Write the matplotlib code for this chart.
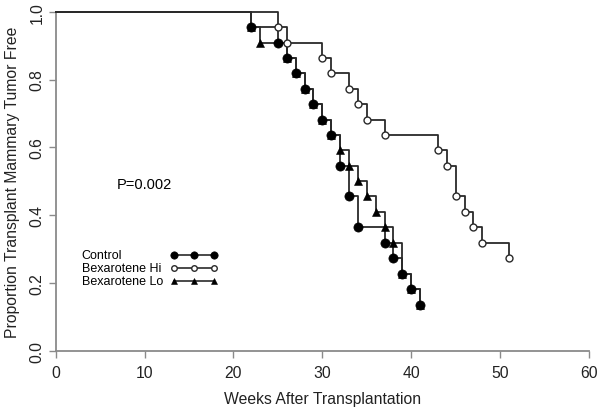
import matplotlib
matplotlib.use("Agg")
import matplotlib.pyplot as plt

plt.rcParams['font.family'] = ['Liberation Sans', 'DejaVu Sans']

# Data (weeks of event, proportion tumor free after event)
ctrl_weeks = [22, 25, 26, 27, 28, 29, 30, 31, 32, 33, 34, 37, 38, 39, 40, 41]
ctrl_surv = [0.955, 0.909, 0.864, 0.818, 0.773, 0.727, 0.682, 0.636, 0.545,
             0.455, 0.364, 0.318, 0.273, 0.227, 0.182, 0.136]
hi_weeks = [25, 26, 30, 31, 33, 34, 35, 37, 43, 44, 45, 46, 47, 48, 51]
hi_surv = [0.955, 0.909, 0.864, 0.818, 0.773, 0.727, 0.682, 0.636, 0.591,
           0.545, 0.455, 0.409, 0.364, 0.318, 0.273]
lo_weeks = [22, 23, 26, 27, 28, 29, 30, 31, 32, 33, 34, 35, 36, 37, 38, 39, 40, 41]
lo_surv = [0.955, 0.909, 0.864, 0.818, 0.773, 0.727, 0.682, 0.636, 0.591,
           0.545, 0.5, 0.455, 0.409, 0.364, 0.318, 0.227, 0.182, 0.136]

labels = ["Control", "Bexarotene Hi", "Bexarotene Lo"]
x_ticks = [0, 10, 20, 30, 40, 50, 60]
y_ticks = [0.0, 0.2, 0.4, 0.6, 0.8, 1.0]

fig = plt.figure(figsize=(6.02, 4.14), dpi=100)
ax = fig.add_axes([0.0925, 0.1505, 0.886, 0.8188])

lc = '#2a2a2a'
styles = {
    'hi': dict(marker='o', mfc='white', mec=lc, ms=5, mew=1.0),
    'lo': dict(marker='^', mfc='black', mec='black', ms=5.8, mew=0.4),
    'ctrl': dict(marker='o', mfc='black', mec='black', ms=6.6, mew=0.5),
}

for weeks, surv, key in [(hi_weeks, hi_surv, 'hi'), (lo_weeks, lo_surv, 'lo'),
                         (ctrl_weeks, ctrl_surv, 'ctrl')]:
    xs = [0] + weeks
    ys = [1.0] + surv
    ax.step(xs, ys, where='post', color=lc, lw=1.3, clip_on=False, zorder=3)
    ax.plot(weeks, surv, ls='none', clip_on=False, zorder=4, **styles[key])

# legend drawn manually
leg_y = [0.283, 0.244, 0.205]
leg_keys = ['ctrl', 'hi', 'lo']
leg_x = [13.35, 15.6, 17.8]
for lab, yy, key in zip(labels, leg_y, leg_keys):
    ax.text(2.92, yy, lab, fontsize=9, va='center', ha='left')
    st = dict(styles[key])
    st['ms'] = st['ms'] * 0.8
    ax.plot(leg_x, [yy] * 3, color=lc, lw=1.2, **st)

ax.text(6.86, 0.492, "P=0.002", fontsize=10.5, va='center', ha='left')

ax.set_xlim(0, 60)
ax.set_ylim(0, 1)
for s in ['top', 'right']:
    ax.spines[s].set_visible(False)
for s in ['left', 'bottom']:
    ax.spines[s].set_color('#8a8a8a')
    ax.spines[s].set_linewidth(1.3)

ax.set_xticks(x_ticks)
ax.set_xticklabels([str(t) for t in x_ticks])
ax.set_yticks(y_ticks)
ax.set_yticklabels([f"{t:.1f}" for t in y_ticks], rotation=90, va='center')
ax.tick_params(axis='both', length=5, width=1.0, color='#8a8a8a',
               labelsize=11.3, labelcolor='#222222')
ax.tick_params(axis='x', pad=5)
ax.tick_params(axis='y', pad=3)

ax.set_xlabel("Weeks After Transplantation", fontsize=11.3, labelpad=8, color='#222222')
ax.set_ylabel("Proportion Transplant Mammary Tumor Free", fontsize=11.3, labelpad=7,
              color='#222222')

fig.savefig("out.png", dpi=100)
